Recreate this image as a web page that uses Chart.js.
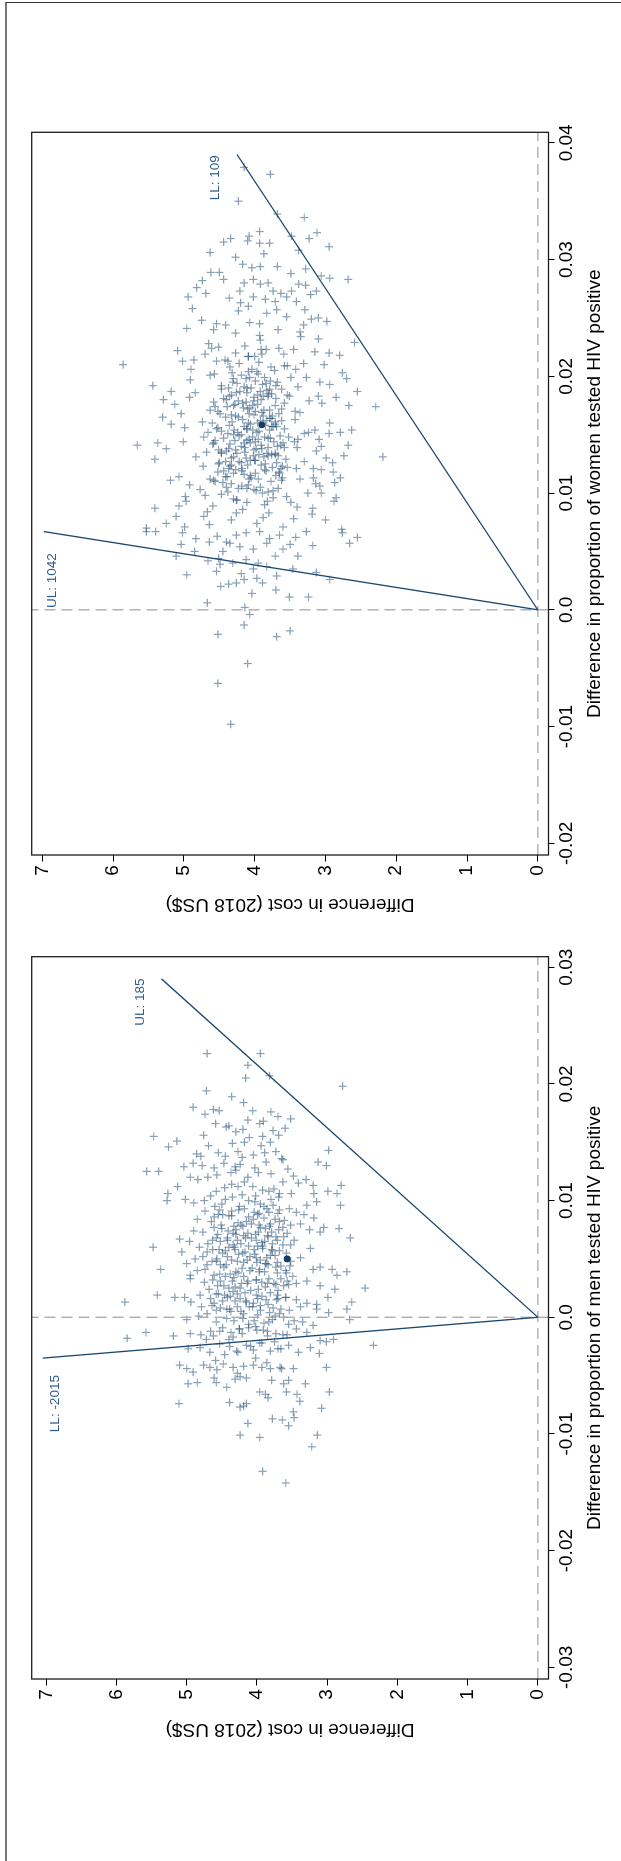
<!DOCTYPE html>
<html>
<head>
<meta charset="utf-8">
<script src="https://cdn.jsdelivr.net/npm/chart.js@4.4.0/dist/chart.umd.min.js"></script>
<style>
html, body { margin: 0; padding: 0; background: #fff; overflow: hidden; }
#page { position: absolute; left: 0; top: 0; width: 1861px; height: 621px; background: #fff;
	transform-origin: 0 0; transform: translate(0, 1861px) rotate(-90deg); }
#frame { position: absolute; left: 0; top: 5px; width: 1858px; height: 660px;
	border-top: 2px solid #777; border-right: 1.5px solid #333; }
canvas { position: absolute; top: 0; }
#men { left: 0; }
#women { left: 930px; }
</style>
</head>
<body>
<div id="page">
	<div id="frame"></div>
	<canvas id="men" width="930" height="621"></canvas>
	<canvas id="women" width="931" height="621"></canvas>
</div>
<script>
// [difference in proportion, difference in cost]
let menDraws = [
	[0.0226,4.71],[0.0226,3.95],[0.0216,4.13],[0.0207,3.82],[0.0205,4.16],[0.0198,2.78],[0.0194,4.72],[0.0189,4.36],[0.0184,4.19],[0.0180,4.91],
	[0.0178,4.62],[0.0177,4.54],[0.0177,4.06],[0.0176,3.80],[0.0174,4.74],[0.0172,3.70],[0.0170,3.52],[0.0166,4.59],[0.0169,4.13],[0.0166,3.96],
	[0.0168,3.91],[0.0163,4.44],[0.0164,4.40],[0.0162,3.60],[0.0160,3.77],[0.0161,4.20],[0.0159,4.30],[0.0155,5.47],[0.0151,5.14],[0.0146,5.26],
	[0.0156,4.76],[0.0156,3.69],[0.0155,3.92],[0.0154,4.11],[0.0150,4.18],[0.0149,4.35],[0.0147,4.69],[0.0147,3.94],[0.0150,3.81],[0.0143,2.98],
	[0.0125,5.57],[0.0125,5.40],
	[0.0140,4.86],[0.0138,4.80],[0.0141,4.55],[0.0138,4.45],[0.0142,4.27],[0.0137,4.21],[0.0139,4.05],[0.0141,3.89],[0.0142,3.73],[0.0136,3.65],
	[0.0133,3.13],[0.0130,3.01],[0.0129,5.04],[0.0132,4.91],[0.0130,4.78],[0.0128,4.61],[0.0132,4.47],[0.0129,4.31],[0.0131,4.24],[0.0128,4.03],
	[0.0133,3.87],[0.0135,3.63],[0.0127,3.56],[0.0112,5.13],[0.0106,5.27],[0.0100,5.28],[0.0120,4.95],[0.0118,4.84],[0.0120,4.70],[0.0122,4.57],
	[0.0124,4.37],[0.0126,4.30],[0.0120,4.13],[0.0124,3.98],[0.0123,3.80],[0.0121,3.48],[0.0115,3.41],[0.0118,3.30],[0.0113,3.20],[0.0113,2.80],
	[0.0108,2.99],[0.0106,2.86],[0.0096,2.81],[0.0106,3.19],[0.0099,3.15],[0.0096,3.29],[0.0101,5.02],[0.0098,4.90],[0.0100,4.75],[0.0104,4.66],
	[0.0108,4.58],[0.0111,4.46],[0.0114,4.36],[0.0116,4.18],[0.0112,4.06],[0.0109,3.92],[0.0110,3.76],[0.0116,3.63],[0.0106,3.51],[0.0103,3.69],
	[0.0101,3.80],[0.0095,3.90],[0.0099,4.03],[0.0105,4.21],[0.0103,4.35],[0.0097,4.50],[0.0095,4.60],[0.0091,4.74],[0.0084,4.85],[0.0082,4.65],
	[0.0088,4.55],[0.0087,4.40],[0.0092,4.26],[0.0086,4.12],[0.0089,3.97],[0.0090,3.83],[0.0092,3.68],[0.0093,3.54],[0.0090,3.44],[0.0088,3.33],
	[0.0085,3.19],[0.0077,3.05],[0.0076,2.83],[0.0068,2.67],[0.0073,3.10],[0.0075,3.25],[0.0080,3.38],[0.0079,3.52],[0.0082,3.68],[0.0078,3.82],
	[0.0077,3.95],[0.0080,4.08],[0.0079,4.23],[0.0078,4.33],[0.0076,4.50],[0.0077,4.61],[0.0073,4.77],[0.0074,4.90],[0.0067,5.10],[0.0060,5.48],
	[0.0041,5.37],[0.0056,5.07],[0.0065,4.96],[0.0060,4.82],[0.0063,4.70],[0.0068,4.58],[0.0066,4.42],[0.0071,4.30],[0.0068,4.16],[0.0066,4.01],
	[0.0070,3.85],[0.0069,3.73],[0.0072,3.57],[0.0066,3.47],[0.0062,3.63],[0.0057,3.78],[0.0061,3.92],[0.0058,4.04],[0.0055,4.20],[0.0060,4.32],
	[0.0055,4.49],[0.0058,4.63],[0.0052,4.77],[0.0050,4.88],[0.0046,5.00],[0.0040,4.85],[0.0045,4.71],[0.0048,4.58],[0.0045,4.44],[0.0048,4.28],
	[0.0049,4.14],[0.0051,4.01],[0.0046,3.87],[0.0043,3.73],[0.0048,3.52],[0.0051,3.38],[0.0059,3.24],[0.0041,3.20],[0.0043,3.10],[0.0041,2.93],
	[0.0039,2.72],[0.0036,2.86],[0.0038,3.58],[0.0041,3.96],[0.0037,4.53],[0.0036,4.95],
	[0.0033,4.95],[0.0030,4.75],[0.0032,4.63],[0.0027,4.47],[0.0031,4.35],[0.0029,4.14],[0.0032,4.01],[0.0029,3.85],[0.0028,3.73],[0.0031,3.57],
	[0.0029,3.44],[0.0031,3.29],[0.0027,3.10],[0.0024,2.89],[0.0017,2.99],[0.0013,2.65],[0.0013,5.88],[0.0019,5.42],[0.0017,5.17],[0.0017,5.03],
	[0.0013,4.94],[0.0019,4.81],[0.0016,4.66],[0.0020,4.58],[0.0017,4.42],[0.0020,4.28],[0.0014,4.16],[0.0016,3.99],[0.0015,3.87],[0.0019,3.71],
	[0.0017,3.59],[0.0015,3.44],[0.0012,3.29],[0.0011,3.15],[0.0007,3.15],[0.0007,2.72],[0.0004,2.98],[-0.0002,2.68],[0.0009,4.79],[0.0010,4.64],
	[0.0008,4.52],[0.0007,4.39],[0.0005,4.23],[0.0009,4.11],[0.0006,3.95],[0.0004,3.82],[0.0007,3.66],[0.0006,3.54],[0.0009,3.38],[-0.0002,5.00],
	[0.0001,4.83],[0.0003,4.71],[-0.0004,4.58],[-0.0001,4.43],[-0.0003,4.33],[-0.0001,4.20],[-0.0003,4.04],[-0.0005,3.90],[-0.0002,3.78],[0.0000,3.62],
	[-0.0003,3.47],[-0.0004,3.35],[-0.0007,3.20],[-0.0018,5.85],[-0.0013,5.58],[-0.0016,5.19],[-0.0014,4.95],[-0.0015,4.80],[-0.0019,4.72],[-0.0016,4.62],
	[-0.0012,4.53],[-0.0013,4.37],[-0.0010,4.25],[-0.0009,4.12],[-0.0011,4.00],[-0.0012,3.85],[-0.0014,3.73],[-0.0015,3.57],[-0.0010,3.44],[-0.0013,3.29],
	[-0.0020,3.10],[-0.0019,2.91],[-0.0021,3.01],[-0.0027,4.98],[-0.0026,4.81],[-0.0030,4.67],[-0.0023,4.53],[-0.0025,4.39],[-0.0029,4.29],[-0.0024,4.15],
	[-0.0028,4.05],[-0.0022,3.93],[-0.0029,3.81],[-0.0027,3.66],[-0.0024,3.55],[-0.0030,3.41],[-0.0026,3.24],[-0.0031,3.11],[-0.0041,5.10],[-0.0044,5.00],
	[-0.0047,4.91],[-0.0041,4.76],[-0.0043,4.67],[-0.0045,4.57],[-0.0040,4.48],[-0.0043,4.34],[-0.0042,4.19],[-0.0041,4.05],[-0.0043,3.93],[-0.0044,3.81],
	[-0.0043,3.67],[-0.0044,3.48],[-0.0043,3.01],[-0.0057,4.98],[-0.0056,4.85],[-0.0056,4.58],[-0.0052,4.61],[-0.0060,4.43],[-0.0053,4.31],[-0.0051,4.24],
	[-0.0052,4.15],[-0.0054,3.79],[-0.0057,3.62],[-0.0054,3.55],[-0.0057,3.31],[-0.0064,3.96],[-0.0066,3.88],[-0.0069,3.84],[-0.0064,3.58],[-0.0066,3.43],
	[-0.0072,3.39],[-0.0064,2.97],[-0.0074,5.11],[-0.0073,4.39],[-0.0077,4.24],[-0.0076,4.19],[-0.0074,4.15],[-0.0081,3.48],[-0.0086,3.47],[-0.0093,3.55],
	[-0.0078,3.08],[-0.0087,3.78],[-0.0088,3.64],[-0.0091,4.13],[-0.0101,4.24],[-0.0103,3.96],[-0.0101,3.14],[-0.0111,3.22],[-0.0132,3.92],[-0.0142,3.59],
	[-0.0024,2.34],[0.0025,2.46],
	[0.0052,4.10],[0.0038,4.27],[0.0061,3.99],[0.0025,4.40],[0.0072,4.13],[0.0018,3.93],[0.0044,3.66],[0.0085,3.90],[0.0009,4.28],[0.0057,4.45],
	[0.0033,3.83],[0.0066,3.71],[0.0012,4.05],[0.0049,4.36],[0.0093,4.18],[0.0027,3.62],[0.0074,4.41],[-0.0006,4.12],[0.0039,3.97],[0.0055,3.58],
	[0.0081,4.27],[0.0021,4.17],[0.0063,4.23],[0.0046,3.88],[-0.0011,3.91],[0.0031,4.52],[0.0069,3.84],[0.0015,3.72],[0.0088,4.49],[0.0042,4.07],
	[-0.0017,4.34],[0.0058,3.79],[0.0024,3.98],[0.0077,3.63],[0.0035,4.19],[0.0003,3.68],[0.0050,4.57],[0.0096,3.77],[0.0019,4.46],[0.0062,4.34],
	[-0.0008,4.02],[0.0029,3.76],[0.0071,4.02],[0.0047,3.71],[0.0084,4.05],[0.0011,3.84],[0.0054,4.26],[0.0037,4.38],[-0.0021,3.75],[0.0065,4.52],
	[0.0023,4.09],[0.0079,3.97],[0.0043,4.47],[0.0007,4.43],[0.0059,3.92],[0.0032,4.01],[0.0089,3.70],[0.0016,4.24],[0.0068,4.08],[0.0040,3.59],
	[-0.0014,4.21],[0.0053,3.81],[0.0026,4.31],[0.0075,4.30],[0.0002,3.99],
	[0.0012,4.61],[0.0047,4.19],[0.0083,3.61],[-0.0032,4.46],[0.0066,4.63],[0.0021,3.81],[0.0104,4.02],[-0.0006,3.55],[0.0058,4.31],[0.0035,3.49],
	[0.0091,4.36],[-0.0025,4.09],[0.0014,4.49],[0.0073,3.79],[0.0041,4.74],[-0.0039,3.86],[0.0029,4.22],[0.0062,3.52],[0.0108,3.83],[0.0005,4.37],
	[0.0049,3.95],[0.0086,4.61],[-0.0015,3.63],[0.0024,4.68],[0.0070,4.19],[0.0038,3.71],[-0.0048,4.28],[0.0097,3.95],[0.0017,3.59],[0.0056,4.71],
	[0.0031,4.13],[0.0079,4.51],[-0.0009,4.49],[0.0045,3.84],[0.0112,4.27],[0.0008,3.77],[0.0064,3.93],[0.0027,4.56],[-0.0027,3.70],[0.0093,3.86],
	[0.0052,4.42],[0.0019,4.01],[0.0075,3.69],[-0.0019,4.40],[0.0036,4.61],[0.0061,4.12],[0.0101,4.45],[0.0003,4.19],[0.0044,3.53],[0.0082,4.15],
	[-0.0035,4.02],[0.0026,3.88],[0.0068,4.42],[0.0013,4.15],[0.0057,3.68],[0.0090,4.04],[-0.0012,4.66],[0.0039,4.30],[0.0076,3.88],[0.0022,4.34],
	[0.0048,4.64],[-0.0044,3.65],[0.0063,3.78],[0.0010,3.95],[0.0087,4.36],[0.0033,3.66],[0.0071,4.56],[-0.0004,3.83],[0.0054,4.03],[0.0106,3.68],
	[0.0018,4.38],[0.0042,4.21],[0.0080,3.81],[-0.0022,3.96],[0.0066,4.28],[0.0028,3.55],[0.0095,4.25],[0.0006,4.58],[0.0051,3.86],[0.0035,4.45],
	[-0.0030,4.27],[0.0073,3.98],[0.0016,3.70],[0.0058,4.54],[0.0084,3.74],[0.0040,4.10],[-0.0010,4.25],[0.0025,4.24],[0.0069,3.62],[0.0047,4.00],
	[0.0100,4.12],[0.0009,4.06],[0.0060,4.40],[0.0030,3.93],[-0.0037,4.59],[0.0078,4.20],[0.0020,4.55],[0.0053,3.74],[0.0088,3.99],[0.0014,4.31],
	[0.0045,4.52],[-0.0016,3.85],[0.0065,3.89],[0.0034,4.33],[0.0072,4.34],[0.0001,3.74],[0.0056,4.17],[0.0092,4.53],[0.0023,3.70],[0.0039,3.89],
]

let womenDraws = [
	[0.0379,4.15],[0.0373,3.78],[0.0350,4.23],[0.0339,3.68],[0.0336,3.30],[0.0320,3.48],[0.0318,3.23],[0.0323,3.12],[0.0311,2.95],[0.0308,3.38],
	[0.0315,4.44],[0.0318,4.34],[0.0320,4.08],[0.0324,3.93],[0.0316,4.10],[0.0314,3.93],[0.0314,3.79],[0.0306,4.63],[0.0302,4.27],[0.0305,3.87],
	[0.0296,4.17],[0.0293,4.04],[0.0294,3.92],[0.0294,3.68],[0.0288,3.49],[0.0292,3.28],[0.0286,3.06],[0.0284,2.94],[0.0283,2.68],[0.0289,4.62],
	[0.0289,4.50],[0.0283,4.44],[0.0282,4.74],[0.0276,4.82],[0.0271,4.69],[0.0268,4.94],[0.0258,4.88],[0.0267,4.36],[0.0273,4.21],[0.0280,4.15],
	[0.0283,4.02],[0.0279,3.92],[0.0280,3.81],[0.0273,3.74],[0.0271,3.63],[0.0268,3.55],[0.0273,3.48],[0.0279,3.38],[0.0278,3.28],[0.0270,3.21],
	[0.0273,3.13],[0.0248,4.75],[0.0245,4.54],[0.0244,4.41],[0.0263,4.20],[0.0260,4.09],[0.0268,4.02],[0.0266,3.85],[0.0264,3.71],[0.0256,4.23],
	[0.0246,4.07],[0.0245,3.93],[0.0254,3.83],[0.0257,3.69],[0.0251,3.55],[0.0264,3.41],[0.0257,3.29],[0.0249,3.20],[0.0250,3.10],[0.0247,2.98],
	[0.0244,3.31],
	[0.0241,4.96],[0.0228,4.65],[0.0240,4.58],[0.0225,4.51],[0.0237,4.27],[0.0231,3.92],[0.0235,3.93],[0.0240,3.67],[0.0224,3.66],[0.0234,3.35],
	[0.0238,3.36],[0.0232,3.10],[0.0229,2.59],[0.0222,5.09],[0.0219,4.70],[0.0224,4.61],[0.0213,4.54],[0.0220,4.27],[0.0217,4.09],[0.0226,4.14],
	[0.0223,3.91],[0.0219,3.90],[0.0219,3.59],[0.0223,3.45],[0.0211,3.31],[0.0221,3.15],[0.0220,2.95],[0.0218,2.80],[0.0210,5.86],[0.0213,5.02],
	[0.0206,4.90],[0.0214,4.86],[0.0202,4.57],[0.0208,4.35],[0.0213,4.38],[0.0217,4.00],[0.0204,3.97],[0.0209,3.54],[0.0206,3.42],[0.0199,3.27],
	[0.0210,3.02],[0.0203,2.76],[0.0198,2.70],[0.0192,5.44],[0.0187,5.18],[0.0197,4.91],[0.0186,4.84],[0.0201,4.63],[0.0195,4.31],[0.0190,4.11],
	[0.0204,4.09],[0.0194,3.84],[0.0189,3.79],[0.0199,3.49],[0.0191,3.39],[0.0195,3.08],[0.0193,2.94],[0.0187,2.55],[0.0180,5.29],[0.0176,5.13],
	[0.0182,4.92],[0.0178,4.58],[0.0189,4.47],[0.0183,4.36],[0.0175,4.03],[0.0180,3.91],[0.0185,3.81],[0.0184,3.54],[0.0170,3.43],[0.0179,3.23],
	[0.0183,3.10],[0.0177,3.05],[0.0182,2.85],[0.0175,2.67],[0.0174,2.29],[0.0165,5.30],[0.0159,5.18],[0.0168,5.04],[0.0161,4.74],[0.0171,4.63],
	[0.0155,4.54],[0.0166,4.27],[0.0172,4.10],[0.0160,4.09],[0.0164,3.77],[0.0159,3.71],[0.0163,3.43],[0.0169,3.36],[0.0154,3.15],[0.0160,2.94],
	[0.0152,2.79],[0.0154,2.63],[0.0156,4.99],[0.0148,4.72],[0.0152,4.66],[0.0143,4.58],[0.0154,4.29],[0.0146,4.08],[0.0155,4.11],[0.0147,3.81],
	[0.0157,3.76],[0.0144,3.44],[0.0151,3.30],[0.0152,3.24],[0.0146,3.09],[0.0151,2.95],[0.0141,5.66],[0.0143,5.37],[0.0138,5.25],[0.0144,5.01],
	[0.0135,4.68],[0.0142,4.59],[0.0137,4.51],[0.0140,4.19],[0.0138,3.98],[0.0133,3.94],[0.0143,3.60],[0.0139,3.40],[0.0146,3.39],[0.0136,3.13],
	[0.0140,3.06],[0.0141,2.68],[0.0129,5.41],[0.0131,4.83],[0.0126,4.50],[0.0134,4.47],[0.0124,4.33],[0.0128,4.00],[0.0132,3.81],[0.0134,3.71],
	[0.0123,3.61],[0.0127,3.30],[0.0121,3.17],[0.0130,2.99],[0.0132,2.74],[0.0131,2.19],[0.0123,4.73],[0.0114,4.41],[0.0121,4.37],[0.0119,4.18],
	[0.0120,3.86],[0.0117,3.65],[0.0111,3.62],[0.0121,3.41],[0.0113,3.17],[0.0120,3.06],[0.0126,2.90],[0.0118,2.89],[0.0111,5.19],[0.0114,5.07],
	[0.0107,4.92],[0.0112,4.63],[0.0110,4.56],[0.0105,4.40],[0.0113,4.05],[0.0102,3.98],[0.0115,3.70],[0.0104,3.67],[0.0112,3.36],[0.0108,3.14],
	[0.0106,3.08],[0.0113,2.79],[0.0109,2.87],[0.0097,4.98],[0.0103,4.77],[0.0098,4.70],[0.0101,4.38],[0.0095,4.30],[0.0104,4.11],[0.0093,3.82],
	[0.0102,3.74],[0.0097,3.55],[0.0100,3.25],[0.0100,3.06],[0.0096,2.85],[0.0093,2.88],[0.0087,5.41],[0.0089,5.07],[0.0093,4.97],[0.0084,4.67],
	[0.0089,4.59],[0.0094,4.25],[0.0086,4.17],[0.0090,3.86],[0.0083,3.80],[0.0092,3.49],[0.0088,3.40],[0.0087,3.18],[0.0074,5.25],[0.0080,5.11],
	[0.0071,4.99],[0.0080,4.72],[0.0073,4.64],[0.0077,4.33],[0.0083,4.26],[0.0074,3.97],[0.0079,3.88],[0.0071,3.60],[0.0078,3.45],[0.0082,3.19],
	[0.0077,3.00],[0.0069,2.77],[0.0070,5.53],
	[0.0067,5.53],[0.0067,5.40],[0.0066,5.02],[0.0061,4.83],[0.0058,4.64],[0.0063,4.53],[0.0058,4.40],[0.0064,4.26],[0.0066,4.12],[0.0067,3.93],
	[0.0061,3.79],[0.0064,3.65],[0.0062,3.42],[0.0067,3.27],[0.0066,2.76],[0.0057,2.66],[0.0062,2.55],[0.0056,5.04],[0.0050,4.85],[0.0046,5.11],
	[0.0042,4.66],[0.0044,4.51],[0.0050,4.45],[0.0057,4.35],[0.0054,4.21],[0.0052,4.02],[0.0057,3.83],[0.0046,3.71],[0.0052,3.60],[0.0056,3.50],
	[0.0046,3.39],[0.0055,3.18],[0.0039,4.49],[0.0040,4.31],[0.0043,4.12],[0.0040,3.95],[0.0030,4.96],[0.0033,4.54],[0.0031,4.19],[0.0035,4.02],
	[0.0037,3.83],[0.0029,3.69],[0.0035,3.46],[0.0032,3.13],[0.0026,2.94],[0.0020,4.48],[0.0022,4.37],[0.0023,4.26],[0.0026,4.15],[0.0027,3.97],
	[0.0023,3.89],[0.0014,4.04],[0.0017,3.70],[0.0011,3.51],[0.0011,3.24],[0.0006,4.67],[0.0002,4.14],[-0.0004,4.07],[-0.0013,4.15],[-0.0021,4.52],
	[-0.0023,3.69],[-0.0018,3.50],[-0.0046,4.10],[-0.0063,4.52],[-0.0098,4.34],
	[0.0152,3.97],[0.0168,4.08],[0.0133,3.76],[0.0145,4.28],[0.0187,3.92],[0.0121,4.18],[0.0174,4.39],[0.0139,3.58],[0.0161,3.71],[0.0112,3.95],
	[0.0198,4.12],[0.0127,4.41],[0.0183,3.51],[0.0156,4.52],[0.0104,4.23],[0.0171,3.87],[0.0143,4.06],[0.0192,4.47],[0.0118,3.66],[0.0165,4.23],
	[0.0135,4.14],[0.0179,4.01],[0.0149,3.64],[0.0125,3.85],[0.0208,3.77],[0.0158,4.36],[0.0109,4.45],[0.0186,4.26],[0.0141,3.91],[0.0172,3.62],
	[0.0130,4.33],[0.0162,3.83],[0.0115,4.06],[0.0195,3.68],[0.0147,4.44],[0.0177,4.17],[0.0122,3.54],[0.0154,3.79],[0.0203,4.32],[0.0137,4.01],
	[0.0168,4.49],[0.0101,3.81],[0.0183,3.81],[0.0150,4.19],[0.0128,3.99],[0.0190,4.05],[0.0160,3.96],[0.0117,4.30],[0.0144,3.73],[0.0175,4.30],
	[0.0132,3.67],[0.0212,3.94],[0.0155,4.11],[0.0107,4.09],[0.0166,3.75],[0.0138,4.37],[0.0181,3.70],[0.0124,4.10],[0.0199,3.86],[0.0148,3.86],
	[0.0143,4.15],[0.0176,3.96],[0.0118,4.52],[0.0201,4.19],[0.0131,3.87],[0.0165,4.41],[0.0092,4.11],[0.0189,3.62],[0.0154,4.03],[0.0122,3.75],
	[0.0214,4.42],[0.0137,4.27],[0.0171,3.79],[0.0105,3.92],[0.0184,4.33],[0.0148,3.52],[0.0127,4.22],[0.0196,3.99],[0.0160,4.60],[0.0113,3.61],
	[0.0178,4.12],[0.0140,3.68],[0.0223,3.84],[0.0151,4.38],[0.0099,4.47],[0.0187,4.21],[0.0132,4.02],[0.0168,3.66],[0.0116,4.15],[0.0205,3.72],
	[0.0146,3.95],[0.0174,4.56],[0.0124,3.91],[0.0193,3.89],[0.0157,3.69],[0.0108,4.33],[0.0181,4.44],[0.0135,4.47],[0.0163,4.17],[0.0129,3.56],
	[0.0217,4.09],[0.0150,4.30],[0.0096,3.74],[0.0170,3.99],[0.0139,3.81],[0.0190,4.37],[0.0120,4.27],[0.0158,3.85],[0.0185,3.76],[0.0111,4.58],
	[0.0145,4.11],[0.0177,3.58],[0.0134,4.25],[0.0199,4.07],[0.0162,3.92],[0.0126,3.69],[0.0209,3.58],[0.0153,4.47],[0.0103,4.01],[0.0182,4.01],
	[0.0141,3.63],[0.0167,4.33],[0.0119,3.84],[0.0194,4.25],[0.0149,4.22],[0.0130,4.12],[0.0175,3.71],[0.0110,3.77],[0.0159,4.06],[0.0188,3.83],
	[0.0136,4.40],[0.0170,4.52],[0.0123,4.35],[0.0202,3.95],[0.0155,3.58],[0.0094,4.26],[0.0179,4.23],[0.0144,3.99],[0.0164,3.79],[0.0117,3.99],
	[0.0191,4.15],[0.0133,3.71],[0.0152,4.24],[0.0173,4.07],[0.0125,4.51],[0.0211,4.22],[0.0142,4.35],[0.0184,3.96],[0.0106,4.18],[0.0161,4.32],
	[0.0138,3.90],[0.0196,3.78],[0.0128,4.06],[0.0166,3.88],[0.0148,4.03],[0.0180,4.40],[0.0114,4.39],[0.0157,3.74],[0.0186,4.11],[0.0121,3.63],
	[0.0145,4.56],[0.0169,3.90],[0.0131,4.30],[0.0206,4.04],[0.0153,3.94],[0.0100,3.89],[0.0176,4.28],[0.0139,4.14],[0.0162,3.62],[0.0192,3.70],
	[0.0126,4.19],[0.0173,4.16],[0.0147,3.78],[0.0119,4.44],[0.0183,3.88],[0.0157,4.15],[0.0134,3.83],[0.0198,4.30],[0.0112,4.08],[0.0167,4.01],
]

// means
let menMean = [0.0050, 3.57]
let womenMean = [0.01585, 3.90]

// threshold lines through the origin (UL / LL)
let menUlX = [0, 0.0290]
let menUlY = [0, 5.36]
let menLlX = [0, -0.0035]
let menLlY = [0, 7.05]
let womenUlX = [0, 0.0067]
let womenUlY = [0, 6.98]
let womenLlX = [0, 0.0390]
let womenLlY = [0, 4.25]

let menLabelText = ['UL: 185', 'LL: -2015']
let menLabelX = [0.0270, -0.0074]
let menLabelY = [5.66, 6.87]
let womenLabelText = ['UL: 1042', 'LL: 109']
let womenLabelX = [0.0025, 0.0370]
let womenLabelY = [6.86, 4.56]

let menXTicks = [-0.03, -0.02, -0.01, 0, 0.01, 0.02, 0.03]
let menXLabels = ['-0.03', '-0.02', '-0.01', '0.0', '0.01', '0.02', '0.03']
let womenXTicks = [-0.02, -0.01, 0, 0.01, 0.02, 0.03, 0.04]
let womenXLabels = ['-0.02', '-0.01', '0.0', '0.01', '0.02', '0.03', '0.04']
let costTicks = [0, 1, 2, 3, 4, 5, 6, 7]
let costLabels = ['0', '1', '2', '3', '4', '5', '6', '7']

let navy = '#1a476f'
let labelColor = '#2f5f8f'
let fontFamily = '"Liberation Sans", Arial, Helvetica, sans-serif'
Chart.defaults.font.family = fontFamily

let boxPlugin = {
	id: 'box',
	afterDatasetsDraw(chart, args, opts) {
		let ctx = chart.ctx
		let a = chart.chartArea
		ctx.save()
		ctx.strokeStyle = '#1e1e1e'
		ctx.lineWidth = 1.3
		ctx.strokeRect(a.left, a.top, a.right - a.left, a.bottom - a.top)
		ctx.fillStyle = labelColor
		ctx.font = '13.5px ' + fontFamily
		ctx.textAlign = 'center'
		ctx.textBaseline = 'middle'
		for (let i = 0; i < opts.text.length; i++) {
			ctx.fillText(opts.text[i], chart.scales.x.getPixelForValue(opts.x[i]), chart.scales.y.getPixelForValue(opts.y[i]))
		}
		ctx.restore()
	},
}

function toXY(xs, ys) {
	return xs.map((v, i) => ({ x: v, y: ys[i] }))
}

function makePanel(id, p) {
	let lineSet = (xs, ys) => ({
		data: toXY(xs, ys), showLine: true, borderColor: navy, borderWidth: 1.3, pointRadius: 0, order: 1,
	})
	let dashSet = (xs, ys) => ({
		data: toXY(xs, ys), showLine: true, borderColor: '#a6a6a6', borderWidth: 1.3, borderDash: [11, 6], pointRadius: 0, order: 3,
	})
	return new Chart(document.getElementById(id), {
		type: 'scatter',
		data: {
			datasets: [
				{ data: [{ x: p.mean[0], y: p.mean[1] }], pointRadius: 3.4, backgroundColor: '#163c62', borderWidth: 0, order: 0 },
				lineSet(p.ulX, p.ulY),
				lineSet(p.llX, p.llY),
				dashSet([0, 0], [p.yMin, p.yMax]),
				dashSet([p.xMin, p.xMax], [0, 0]),
				{
					data: p.draws.map(d => ({ x: d[0], y: d[1] })),
					pointStyle: 'cross', pointRadius: 4, borderWidth: 1.2, borderColor: 'rgba(26,71,111,0.52)', order: 5,
				},
			],
		},
		options: {
			responsive: false,
			animation: false,
			devicePixelRatio: 1,
			events: [],
			layout: { padding: { top: 31.7, right: p.padRight, left: 0, bottom: 0 } },
			plugins: {
				legend: { display: false },
				tooltip: { enabled: false },
				box: { text: p.labelText, x: p.labelX, y: p.labelY },
			},
			scales: {
				x: {
					type: 'linear', min: p.xMin, max: p.xMax,
					afterBuildTicks: s => { s.ticks = p.xTicks.map(v => ({ value: v })) },
					afterFit: s => { s.height = 72.5 },
					ticks: { callback: (v, i) => p.xLabels[i], color: '#000', font: { size: 19 }, padding: 1, maxRotation: 0, autoSkip: false },
					grid: { drawOnChartArea: false, drawTicks: true, tickLength: 6, color: '#000', lineWidth: 1 },
					border: { display: false },
					title: { display: true, text: p.xTitle, color: '#000', font: { size: 19 }, padding: { top: 0, bottom: 14.6 } },
				},
				y: {
					type: 'linear', min: p.yMin, max: p.yMax,
					afterBuildTicks: s => { s.ticks = costTicks.map(v => ({ value: v })) },
					afterFit: s => { s.width = p.yWidth },
					ticks: { callback: (v, i) => costLabels[i], color: '#000', font: { size: 19 }, padding: 3.8, autoSkip: false },
					grid: { drawOnChartArea: false, drawTicks: true, tickLength: 6.5, color: '#000', lineWidth: 1 },
					border: { display: false },
					title: { display: true, text: 'Difference in cost (2018 US$)', color: '#000', font: { size: 19 }, padding: { top: p.yTitlePad, bottom: 0 } },
				},
			},
		},
		plugins: [boxPlugin],
	})
}

makePanel('men', {
	draws: menDraws, mean: menMean,
	ulX: menUlX, ulY: menUlY, llX: menLlX, llY: menLlY,
	labelText: menLabelText, labelX: menLabelX, labelY: menLabelY,
	xMin: -0.031, xMax: 0.0309, yMin: -0.152, yMax: 7.208,
	xTicks: menXTicks, xLabels: menXLabels,
	xTitle: 'Difference in proportion of men tested HIV positive',
	padRight: 25.7, yWidth: 182, yTitlePad: 120.6,
})

makePanel('women', {
	draws: womenDraws, mean: womenMean,
	ulX: womenUlX, ulY: womenUlY, llX: womenLlX, llY: womenLlY,
	labelText: womenLabelText, labelX: womenLabelX, labelY: womenLabelY,
	xMin: -0.0210, xMax: 0.0409, yMin: -0.151, yMax: 7.151,
	xTicks: womenXTicks, xLabels: womenXLabels,
	xTitle: 'Difference in proportion of women tested HIV positive',
	padRight: 132.3, yWidth: 76, yTitlePad: 15.6,
})
</script>
</body>
</html>
